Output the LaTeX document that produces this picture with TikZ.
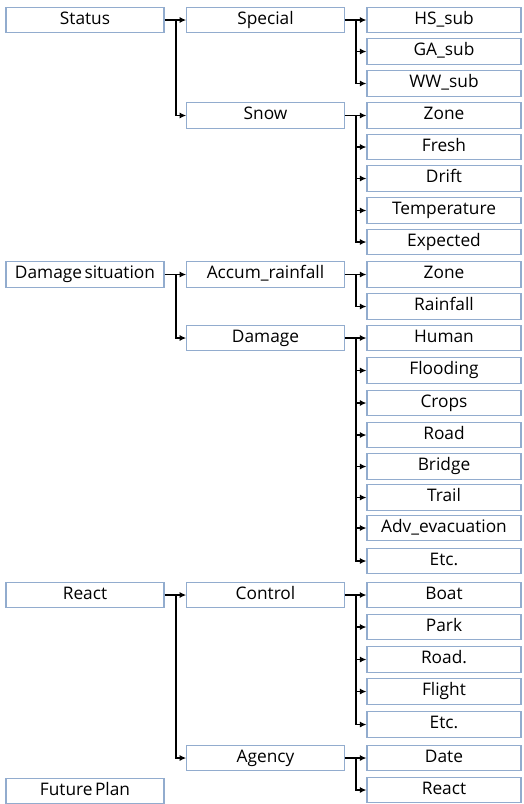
\documentclass[tikz,border=0pt]{standalone}
\usepackage{fontspec}
\setmainfont{Open Sans}
\usepackage{tikz}
\usetikzlibrary{arrows.meta,calc}
\definecolor{boxline}{RGB}{146,172,206}
\tikzstyle{topic} = [draw=boxline, fill=white, line width=1.1pt, rectangle, inner sep=0pt, minimum height=25.5pt, minimum width=158pt, text height=12.5pt, text depth=4pt, font=\fontsize{17.3}{20}\selectfont]
\tikzstyle{sub} = [topic, minimum width=157.5pt]
\tikzstyle{item} = [topic, minimum width=154pt]
\tikzstyle{link} = [draw, line width=1.7pt, ->]
\tikzstyle{trunk} = [coordinate]

\begin{document}
\begin{tikzpicture}[x=1pt, y=-1pt, >={Latex[length=6.5pt,width=6pt]}]
    \useasboundingbox (0,0) rectangle (523,804);

    % We start by placing the first column
    \node [topic] (status) at (85,20) {Status};
    \node [topic] (damsit) at (85,274.5) {Damage\hspace{0.14em}situation};
    \node [topic] (react) at (85,595) {React};
    \node [topic] (future) at (85,791) {Future\hspace{0.14em}Plan};

    % second column
    \node [sub] (special) at (265.5,20) {Special};
    \node [sub] (snow) at (265.5,115.5) {Snow};
    \node [sub] (accum) at (265.5,274.5) {Accum\_rainfall};
    \node [sub] (damage) at (265.5,338) {Damage};
    \node [sub] (control) at (265.5,595) {Control};
    \node [sub] (agency) at (265.5,758) {Agency};

    % third column
    \node [item] (hssub) at (444,20) {HS\_sub};
    \node [item] (gasub) at (444,51.5) {GA\_sub};
    \node [item] (wwsub) at (444,83.5) {WW\_sub};
    \node [item] (zone) at (444,115.5) {Zone};
    \node [item] (fresh) at (444,147) {Fresh};
    \node [item] (drift) at (444,178.5) {Drift};
    \node [item] (temp) at (444,210.5) {Temperature};
    \node [item] (expected) at (444,242) {Expected};
    \node [item] (zonerain) at (444,274.5) {Zone};
    \node [item] (rainfall) at (444,306.5) {Rainfall};
    \node [item] (human) at (444,338) {Human};
    \node [item] (flooding) at (444,370.5) {Flooding};
    \node [item] (crops) at (444,403) {Crops};
    \node [item] (road) at (444,435) {Road};
    \node [item] (bridge) at (444,466.5) {Bridge};
    \node [item] (trail) at (444,497.5) {Trail};
    \node [item] (advevac) at (444,528) {Adv\_evacuation};
    \node [item] (etcdam) at (444,561) {Etc.};
    \node [item] (boat) at (444,595) {Boat};
    \node [item] (park) at (444,627) {Park};
    \node [item] (roadctl) at (444,659.5) {Road.};
    \node [item] (flight) at (444,691.5) {Flight};
    \node [item] (etcctl) at (444,724.5) {Etc.};
    \node [item] (date) at (444,758) {Date};
    \node [item] (reactag) at (444,790) {React};

    % Once the nodes are placed, the trunks and arrows follow
    \foreach \parent/\kids in {status/{special,snow}, damsit/{accum,damage}, react/{control,agency},
        special/{hssub,gasub,wwsub}, snow/{zone,fresh,drift,temp,expected},
        accum/{zonerain,rainfall}, damage/{human,flooding,crops,road,bridge,trail,advevac,etcdam},
        control/{boat,park,roadctl,flight,etcctl}, agency/{date,reactag}} {
        \node [trunk] (\parent-t) at ($(\parent.east)+(11.5,0)$) {};
        \draw [line width=1.7pt] (\parent.east) -- (\parent-t);
        \foreach \kid in \kids
            \draw [link] (\parent-t) |- (\kid.west);
    }
\end{tikzpicture}
\end{document}
